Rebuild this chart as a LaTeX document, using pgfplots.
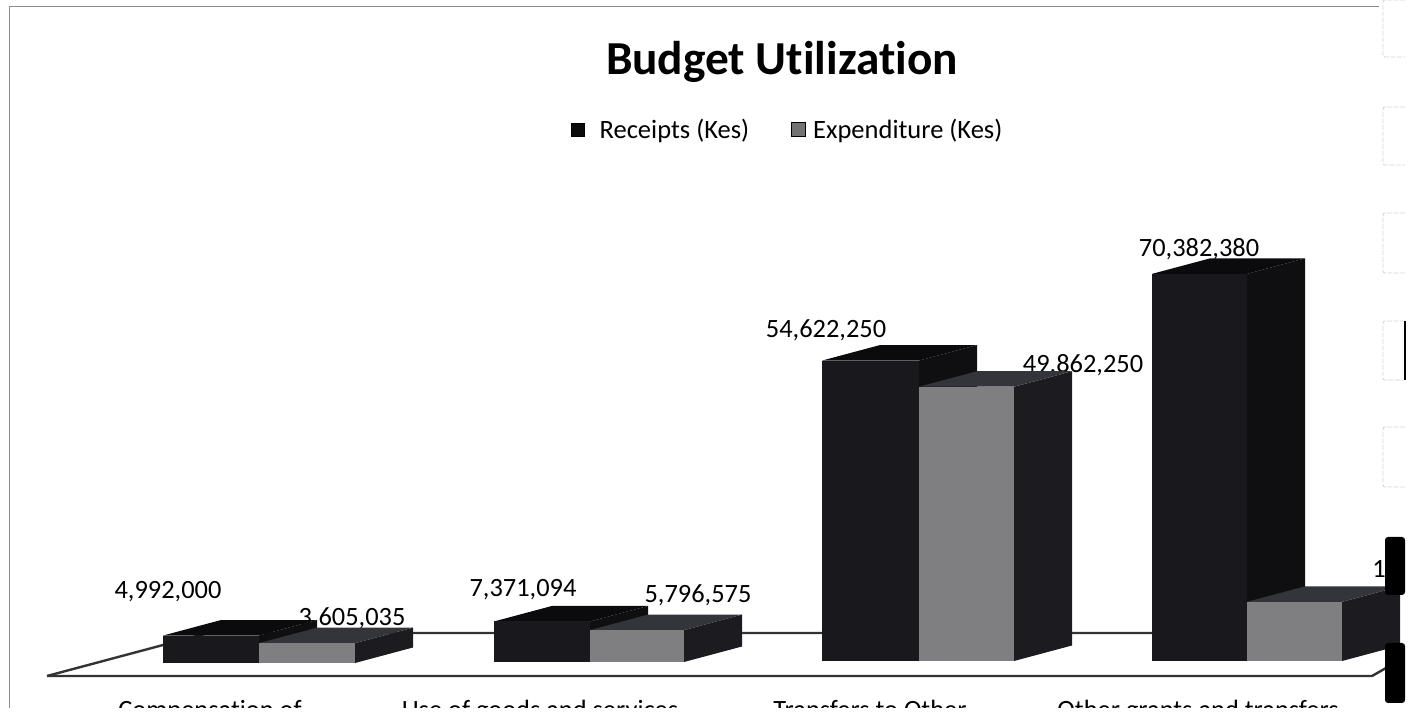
\documentclass[border=0pt]{standalone}
\usepackage{pgfplots}
\usepackage{fontspec}
\setmainfont[Ligatures=NoCommon]{Carlito}
\pgfplotsset{compat=1.18}

\definecolor{recFront}{HTML}{19191D}
\definecolor{recSide}{HTML}{0F0F12}
\definecolor{recTop}{HTML}{0B0B0D}
\definecolor{expFront}{HTML}{7F7F81}
\definecolor{expSide}{HTML}{1C1C20}
\definecolor{expTop}{HTML}{34343B}
\definecolor{floorLine}{HTML}{333333}
\definecolor{frameLine}{HTML}{8C8C8C}
\definecolor{tabLine}{HTML}{D4D4D4}

% A box with depth: left edge, right edge, value (millions), baseline shift, three face colours
\newcommand{\solidbar}[7]{%
  \pgfmathsetmacro\xc{(#1+#2)/2}%
  \pgfmathsetmacro\xw{#2-#1}%
  \pgfmathsetmacro\xlb{#1+58}%
  \pgfmathsetmacro\xrb{#2+58}%
  \pgfmathsetmacro\vb{#3+2.82}%
  \edef\next{%
    \noexpand\addplot[forget plot,fill=#6,draw=none,yshift=#4bp] coordinates
      {(#2,0) (\xrb,2.82) (\xrb,\vb) (#2,#3)} --cycle;
    \noexpand\addplot[forget plot,fill=#7,draw=none,yshift=#4bp] coordinates
      {(#1,#3) (\xlb,\vb) (\xrb,\vb) (#2,#3)} --cycle;
    \noexpand\addplot[forget plot,ybar,bar shift=0pt,bar width=\xw,fill=#5,draw=none,yshift=#4bp]
      coordinates {(\xc,#3)};
  }\next
}
\newcommand{\valuelabel}[3]{\node[font=\fontsize{26.5}{30}\selectfont,inner sep=0pt] at (axis cs:#1,#2) {#3};}

\begin{document}
\begin{tikzpicture}[x=1bp,y=1bp]
\begin{axis}[
  at={(0,0)},anchor=south west,
  width=1410bp,height=713bp,scale only axis,
  xmin=0,xmax=1410,ymin=-9.4545,ymax=120.18,
  clip=false,
  axis x line*=bottom,axis y line*=left,
  axis line style={draw=none},
  ytick=\empty,
  xtick={210,540,870,1198},
  xticklabels={Compensation of,Use of goods and services,Transfers to Other,Other grants and transfers},
  major tick length=0pt,
  x tick label style={font=\fontsize{26.5}{30}\selectfont,anchor=north,yshift=13bp,inner sep=0pt},
  title={Budget Utilization},
  title style={at={(axis cs:782,107.9)},anchor=center,inner sep=0pt,font=\bfseries\fontsize{47.5}{52}\selectfont},
  legend style={at={(axis cs:788,96.6)},anchor=center,draw=none,fill=none,
    legend columns=2,font=\fontsize{26.6}{30}\selectfont,
    /tikz/every odd column/.append style={column sep=6bp},
    /tikz/every even column/.append style={column sep=40bp}},
  legend cell align=left,
]
% legend swatches
\addlegendimage{only marks,mark=square*,mark size=6.5bp,mark options={fill=recTop,draw=none}}
\addlegendentry{\hspace{7bp}Receipts (Kes)}
\addlegendimage{only marks,mark=square*,mark size=7bp,mark options={fill=expFront!90!black,draw=none}}
\addlegendentry{Expenditure (Kes)}

% floor of the 3D plot
\addplot[forget plot,floorLine,line width=2.4bp] coordinates {(47,-2.727) (208,5.09) (1160,5.09)};
\addplot[forget plot,floorLine,line width=2.4bp] coordinates {(47,-2.727) (1372,-2.727) (1386,-1.27)};

% value labels sit behind the boxes
\valuelabel{168}{12.55}{4,992,000}
\valuelabel{352}{7.82}{3,605,035}
\valuelabel{523}{12.91}{7,371,094}
\valuelabel{698}{12.0}{5,796,575}
\valuelabel{826}{60.2}{54,622,250}
\valuelabel{1083}{53.8}{49,862,250}
\valuelabel{1199}{74.9}{70,382,380}
\valuelabel{1379}{16.8}{1}

% Receipts and expenditure by category
\solidbar{163}{259}{4.992}{-2}{recFront}{recSide}{recTop}
\solidbar{259}{355}{3.605035}{-2}{expFront}{expSide}{expTop}
\solidbar{494}{590}{7.371094}{-1}{recFront}{recSide}{recTop}
\solidbar{590}{684}{5.796575}{-1}{expFront}{expSide}{expTop}
\solidbar{822}{919}{54.62225}{0}{recFront}{recSide}{recTop}
\solidbar{919}{1014}{49.86225}{0}{expFront}{expSide}{expTop}
\solidbar{1152}{1247}{70.38238}{0}{recFront}{recSide}{recTop}
\solidbar{1247}{1342}{10.75}{0}{expFront}{expSide}{expTop}
\end{axis}

% thin outer frame
\draw[frameLine,line width=1bp] (9,0) -- (9,706) -- (1379,706);

% tabs along the right edge
\foreach \ya/\yb in {0/57,107/165,213/273,321/380,427/487}{
  \draw[tabLine,line width=.8bp,dash pattern=on 5bp off 1.5bp,rounded corners=2bp]
    (1405,713-\ya) -- (1383,713-\ya) -- (1383,713-\yb) -- (1405,713-\yb);
}
\draw[black,line width=1.6bp] (1405,713-321) -- (1405,713-380);
\fill[black,rounded corners=3bp] (1385,713-537) rectangle (1405,713-595);
\fill[black,rounded corners=3bp] (1385,713-643) rectangle (1405,713-703);

% the category names are cut by the lower edge
\fill[white] (-1,-1) rectangle (1383,5);

\pgfresetboundingbox
\path[use as bounding box] (0,0) rectangle (1410,713);
\end{tikzpicture}
\end{document}
